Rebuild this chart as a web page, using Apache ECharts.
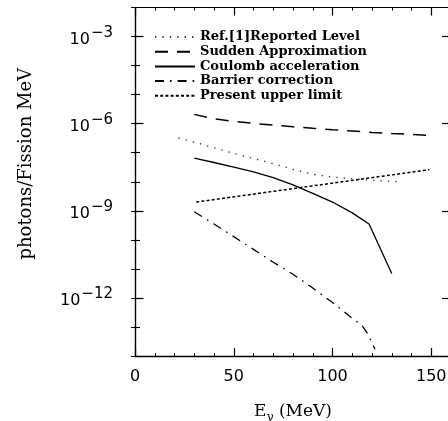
<!DOCTYPE html>
<html>
<head>
<meta charset="utf-8">
<script src="https://cdn.jsdelivr.net/npm/echarts@6/dist/echarts.min.js"></script>
<style>
  html, body { margin: 0; padding: 0; background: #fff; }
  #chart { width: 448px; height: 421px; }
</style>
</head>
<body>
<div id="chart"></div>
<script>
// Photon energy (MeV) and yield (photons / fission MeV) for each curve
const energyRef = [22, 30, 40, 50, 60, 70, 80, 90, 100, 110, 120, 134];
const yieldRef = [3.2e-7, 2.34e-7, 1.48e-7, 9.5e-8, 6.3e-8, 4.2e-8, 2.7e-8, 1.8e-8, 1.45e-8, 1.26e-8, 1.12e-8, 1.0e-8];

const energySudden = [30, 40, 50, 60, 70, 80, 90, 100, 110, 120, 130, 140, 148];
const yieldSudden = [2.09e-6, 1.48e-6, 1.2e-6, 1.02e-6, 8.9e-7, 7.8e-7, 6.9e-7, 6.2e-7, 5.6e-7, 5.0e-7, 4.6e-7, 4.3e-7, 4.0e-7];

const energyCoulomb = [30, 40, 50, 60, 70, 80, 90, 100, 110, 118.5, 130];
const yieldCoulomb = [6.5e-8, 4.6e-8, 3.2e-8, 2.2e-8, 1.38e-8, 7.8e-9, 4.0e-9, 2.0e-9, 8.5e-10, 3.5e-10, 6.9e-12];

const energyBarrier = [30, 40, 50, 60, 70, 80, 90, 100, 110, 115, 118, 121.5];
const yieldBarrier = [9.3e-10, 3.5e-10, 1.29e-10, 4.7e-11, 1.7e-11, 6.5e-12, 2.2e-12, 6.9e-13, 2.0e-13, 1.12e-13, 5.6e-14, 1.7e-14];

const energyLimit = [31, 149];
const yieldLimit = [2.0e-9, 2.6e-8];

const seriesNames = [
  'Ref.[1]Reported Level',
  'Sudden Approximation',
  'Coulomb acceleration',
  'Barrier correction',
  'Present upper limit'
];

// Axis ticks and labels
const xMajorTicks = [0, 50, 100, 150];
const yLabelExponents = [-12, -9, -6, -3];

const pairs = (xs, ys) => xs.map((x, i) => [x, ys[i]]);

const chart = echarts.init(document.getElementById('chart'), null, { renderer: 'canvas' });

const black = '#000';
const tickFont = 'DejaVu Sans';
const serif = 'DejaVu Serif';

function lineSeries(name, xs, ys, width, dash, color) {
  return {
    name: name,
    type: 'line',
    xAxisIndex: 0,
    yAxisIndex: 0,
    data: pairs(xs, ys),
    symbol: 'none',
    showSymbol: false,
    silent: true,
    lineStyle: { color: color || black, width: width, type: dash, cap: 'butt' },
    itemStyle: { color: color || black }
  };
}

const xBase = { type: 'value', min: 0, max: 160, splitLine: { show: false } };
const yExpBase = { type: 'value', min: -14, max: -2, splitLine: { show: false } };

const option = {
  animation: false,
  backgroundColor: '#fff',
  grid: { left: 135, right: -3, top: 7.5, bottom: 65, containLabel: false, outerBoundsMode: 'none' },
  legend: {
    data: seriesNames.map(n => ({ name: n, itemStyle: { opacity: 0 } })),
    orient: 'vertical',
    left: 154,
    top: 30,
    padding: 0,
    itemWidth: 40,
    itemHeight: 14,
    itemGap: 0.7,
    selectedMode: false,
    itemStyle: { opacity: 0 },
    textStyle: {
      fontFamily: serif,
      fontWeight: 'bold',
      fontSize: 13,
      lineHeight: 14,
      color: black
    }
  },
  xAxis: [
    Object.assign({}, xBase, {
      position: 'bottom',
      interval: 50,
      axisLine: { show: true, lineStyle: { color: black, width: 1.3 } },
      axisTick: { show: true, inside: true, length: 8, lineStyle: { color: black, width: 1.2 } },
      axisLabel: {
        show: true, margin: 13, color: black, fontFamily: tickFont, fontSize: 16,
        formatter: v => (xMajorTicks.indexOf(v) >= 0 ? String(v) : '')
      },
      name: '{b|E}{sub|γ}{b| (MeV)}',
      nameLocation: 'middle',
      nameGap: 47,
      nameTextStyle: {
        color: black,
        rich: {
          b: { fontFamily: serif, fontSize: 17, color: black, verticalAlign: 'top' },
          sub: { fontFamily: serif, fontSize: 12, color: black, verticalAlign: 'top', padding: [9, 0, 0, 0] }
        }
      }
    }),
    Object.assign({}, xBase, {
      position: 'bottom',
      interval: 10,
      axisLine: { show: false },
      axisTick: { show: true, inside: true, length: 3, lineStyle: { color: black, width: 1 } },
      axisLabel: { show: false }
    }),
    Object.assign({}, xBase, {
      position: 'top',
      interval: 50,
      axisLine: { show: true, lineStyle: { color: black, width: 1.1 } },
      axisTick: { show: true, inside: true, length: 8, lineStyle: { color: black, width: 1.2 } },
      axisLabel: { show: false }
    }),
    Object.assign({}, xBase, {
      position: 'top',
      interval: 10,
      axisLine: { show: false },
      axisTick: { show: true, inside: true, length: 3, lineStyle: { color: black, width: 1 } },
      axisLabel: { show: false }
    })
  ],
  yAxis: [
    {
      type: 'log',
      position: 'left',
      min: 1e-14,
      max: 1e-2,
      splitLine: { show: false },
      axisLine: { show: true, lineStyle: { color: black, width: 1.3 } },
      axisTick: { show: false },
      axisLabel: { show: false },
      minorTick: { show: false },
      name: 'photons/Fission MeV',
      nameLocation: 'middle',
      nameGap: 100,
      nameTextStyle: {
        color: black, fontFamily: serif, fontSize: 18,
        padding: [0, 0, 0, 36]
      }
    },
    Object.assign({}, yExpBase, {
      position: 'left',
      interval: 1,
      axisLine: { show: false },
      axisTick: { show: true, inside: true, length: 5, lineStyle: { color: black, width: 1.1 } },
      axisLabel: {
        show: true, margin: 22, color: black,
        formatter: v => (yLabelExponents.indexOf(v) >= 0 ? '{b|10}{s|\u2212' + (-v) + '}' : ''),
        rich: {
          b: { fontFamily: tickFont, fontSize: 16, color: black, verticalAlign: 'bottom' },
          s: { fontFamily: tickFont, fontSize: 15, color: black, verticalAlign: 'bottom', padding: [0, 0, 7, 1] }
        }
      }
    }),
    Object.assign({}, yExpBase, {
      position: 'left',
      axisLine: { show: false },
      axisTick: { show: true, inside: true, length: 8.5, customValues: yLabelExponents, lineStyle: { color: black, width: 1.2 } },
      axisLabel: { show: false }
    }),
    Object.assign({}, yExpBase, {
      position: 'right',
      interval: 1,
      axisLine: { show: true, lineStyle: { color: black, width: 1.1 } },
      axisTick: { show: true, inside: true, length: 4, lineStyle: { color: black, width: 1 } },
      axisLabel: { show: false }
    }),
    Object.assign({}, yExpBase, {
      position: 'right',
      axisLine: { show: false },
      axisTick: { show: true, inside: true, length: 9, customValues: yLabelExponents, lineStyle: { color: black, width: 1.2 } },
      axisLabel: { show: false }
    })
  ],
  series: [
    lineSeries(seriesNames[0], energyRef, yieldRef, 1.4, [1.4, 6], '#444'),
    lineSeries(seriesNames[1], energySudden, yieldSudden, 1.5, [13, 9]),
    lineSeries(seriesNames[2], energyCoulomb, yieldCoulomb, 1.3, 'solid'),
    lineSeries(seriesNames[3], energyBarrier, yieldBarrier, 1.3, [9, 6, 1.6, 6]),
    lineSeries(seriesNames[4], energyLimit, yieldLimit, 1.5, [3, 2.2])
  ]
};

chart.setOption(option);
</script>
</body>
</html>
